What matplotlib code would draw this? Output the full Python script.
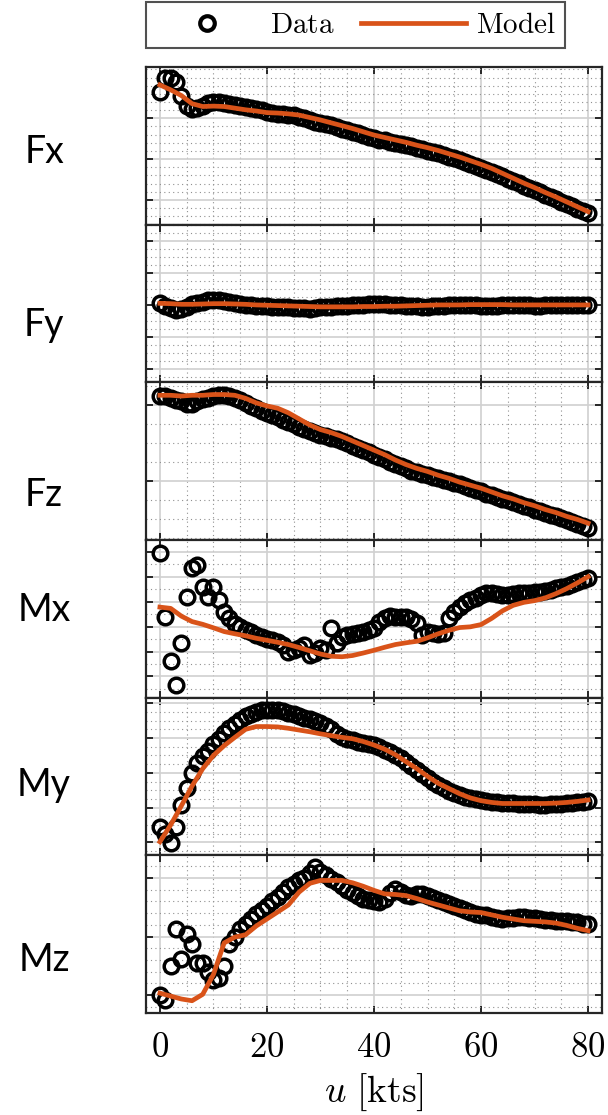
import numpy as np
import matplotlib
matplotlib.use("Agg")
import matplotlib.pyplot as plt
from matplotlib.ticker import MultipleLocator, AutoMinorLocator

plt.rcParams['mathtext.fontset'] = 'cm'

# speed grid (kts)
u_data = np.arange(0, 81, 1)
u_model = np.arange(0, 81, 2)

names = ["Fx", "Fy", "Fz", "Mx", "My", "Mz"]

# measured data, normalised units (one unit = one grid step)
Fx_data = [2.65, 2.99, 3.00, 2.88, 2.55, 2.30, 2.22, 2.25, 2.31, 2.37,
           2.40, 2.40, 2.38, 2.35, 2.32, 2.30, 2.28, 2.26, 2.23, 2.20,
           2.16, 2.13, 2.11, 2.10, 2.09, 2.07, 2.04, 2.00, 1.96, 1.92,
           1.89, 1.86, 1.83, 1.79, 1.75, 1.71, 1.67, 1.63, 1.59, 1.55,
           1.51, 1.48, 1.46, 1.43, 1.40, 1.37, 1.34, 1.31, 1.28, 1.24,
           1.21, 1.18, 1.14, 1.10, 1.06, 1.02, 0.98, 0.93, 0.89, 0.84,
           0.79, 0.74, 0.68, 0.63, 0.58, 0.52, 0.46, 0.41, 0.35, 0.29,
           0.23, 0.18, 0.12, 0.07, 0.01, -0.05, -0.10, -0.16, -0.22, -0.28,
           -0.32]
Fy_data = [0.05, -0.02, -0.10, -0.15, -0.12, -0.05, 0.02, 0.06, 0.10, 0.14,
           0.16, 0.15, 0.12, 0.08, 0.05, 0.03, 0.01, 0.00, -0.02, -0.03,
           -0.04, -0.05, -0.06, -0.07, -0.08, -0.09, -0.10, -0.11, -0.12, -0.10,
           -0.08, -0.06, -0.05, -0.04, -0.03, -0.02, -0.01, 0.00, 0.01, 0.02,
           0.03, 0.03, 0.02, 0.01, 0.00, -0.01, -0.02, -0.03, -0.04, -0.05,
           -0.05, -0.04, -0.03, -0.02, -0.01, 0.00, 0.01, 0.01, 0.00, -0.01,
           -0.02, -0.03, -0.03, -0.02, -0.01, 0.00, 0.01, 0.01, 0.00, -0.01,
           -0.02, -0.02, -0.01, 0.00, 0.01, 0.01, 0.00, -0.01, -0.01, 0.00,
           0.00]
Fz_data = [1.12, 1.12, 1.10, 1.07, 1.05, 1.02, 1.02, 1.05, 1.08, 1.10,
           1.12, 1.13, 1.13, 1.12, 1.10, 1.07, 1.03, 0.99, 0.96, 0.93,
           0.90, 0.87, 0.84, 0.81, 0.78, 0.75, 0.72, 0.69, 0.66, 0.63,
           0.61, 0.59, 0.57, 0.55, 0.53, 0.50, 0.47, 0.44, 0.41, 0.38,
           0.35, 0.32, 0.29, 0.26, 0.23, 0.20, 0.17, 0.14, 0.12, 0.10,
           0.08, 0.06, 0.04, 0.02, 0.00, -0.02, -0.04, -0.06, -0.09, -0.11,
           -0.13, -0.16, -0.18, -0.20, -0.23, -0.25, -0.27, -0.30, -0.32, -0.34,
           -0.37, -0.39, -0.41, -0.44, -0.46, -0.48, -0.51, -0.53, -0.56, -0.58,
           -0.61]
Mx_data = [4.96, 2.40, 0.63, -0.33, 1.33, 3.20, 4.35, 4.45, 3.60, 3.20,
           3.60, 3.05, 2.60, 2.33, 2.10, 1.98, 1.88, 1.78, 1.68, 1.60,
           1.52, 1.47, 1.40, 1.27, 1.00, 1.07, 1.15, 1.25, 0.85, 0.95,
           1.13, 1.05, 1.93, 1.33, 1.58, 1.65, 1.72, 1.76, 1.80, 1.85,
           1.95, 2.20, 2.35, 2.42, 2.40, 2.38, 2.37, 2.30, 2.13, 1.67,
           1.80, 1.75, 1.72, 1.75, 2.33, 2.60, 2.80, 2.95, 3.07, 3.15,
           3.25, 3.33, 3.35, 3.30, 3.27, 3.28, 3.30, 3.33, 3.34, 3.36,
           3.38, 3.40, 3.43, 3.48, 3.53, 3.58, 3.64, 3.72, 3.80, 3.87,
           3.93]
My_data = [0.45, 0.25, -0.03, 0.45, 1.07, 1.56, 1.99, 2.28, 2.47, 2.62,
           2.82, 2.98, 3.14, 3.28, 3.40, 3.52, 3.62, 3.70, 3.76, 3.80,
           3.81, 3.81, 3.80, 3.77, 3.73, 3.69, 3.64, 3.59, 3.54, 3.48,
           3.42, 3.35, 3.25, 3.12, 3.02, 2.97, 2.93, 2.90, 2.87, 2.84,
           2.80, 2.74, 2.67, 2.60, 2.52, 2.42, 2.32, 2.20, 2.08, 1.96,
           1.85, 1.74, 1.64, 1.56, 1.48, 1.42, 1.36, 1.31, 1.27, 1.24,
           1.21, 1.19, 1.17, 1.15, 1.14, 1.13, 1.12, 1.11, 1.10, 1.10,
           1.10, 1.09, 1.09, 1.10, 1.10, 1.11, 1.12, 1.13, 1.15, 1.17,
           1.20]
Mz_data = [0.00, -0.09, 0.49, 1.13, 0.61, 1.04, 0.87, 0.55, 0.55, 0.40,
           0.26, 0.29, 0.49, 0.87, 1.00, 1.12, 1.21, 1.30, 1.38, 1.45,
           1.53, 1.61, 1.68, 1.76, 1.84, 1.90, 1.96, 2.01, 2.08, 2.19,
           2.10, 2.05, 1.99, 1.93, 1.87, 1.80, 1.74, 1.69, 1.65, 1.62,
           1.60, 1.59, 1.65, 1.75, 1.82, 1.76, 1.71, 1.70, 1.72, 1.73,
           1.70, 1.66, 1.62, 1.59, 1.56, 1.52, 1.48, 1.45, 1.42, 1.39,
           1.37, 1.36, 1.34, 1.32, 1.30, 1.31, 1.32, 1.33, 1.33, 1.32,
           1.31, 1.30, 1.29, 1.28, 1.27, 1.27, 1.26, 1.25, 1.24, 1.22,
           1.21]

# model output every 2 kts
Fx_model = [2.82, 2.70, 2.56, 2.36, 2.29, 2.30, 2.29, 2.25, 2.21, 2.18,
            2.14, 2.13, 2.11, 2.08, 2.02, 1.96, 1.89, 1.82, 1.75, 1.67,
            1.59, 1.53, 1.47, 1.41, 1.34, 1.28, 1.21, 1.13, 1.05, 0.96,
            0.87, 0.77, 0.65, 0.53, 0.41, 0.30, 0.18, 0.07, -0.05, -0.17,
            -0.29]
Fy_model = [0.05, 0.04, 0.02, 0.02, 0.03, 0.04, 0.04, 0.03, 0.02, 0.00,
            -0.01, -0.02, -0.03, -0.04, -0.05, -0.06, -0.06, -0.06, -0.06, -0.05,
            -0.05, -0.04, -0.04, -0.03, -0.02, -0.01, 0.00, 0.00, 0.00, 0.01,
            0.01, 0.01, 0.01, 0.00, 0.00, 0.00, 0.00, 0.00, 0.00, 0.00,
            0.00]
Fz_model = [1.13, 1.13, 1.12, 1.13, 1.13, 1.14, 1.14, 1.13, 1.09, 1.03,
            0.99, 0.96, 0.90, 0.82, 0.74, 0.68, 0.64, 0.59, 0.53, 0.47,
            0.41, 0.35, 0.28, 0.22, 0.17, 0.13, 0.08, 0.04, -0.01, -0.05,
            -0.09, -0.14, -0.19, -0.23, -0.28, -0.32, -0.37, -0.41, -0.46, -0.50,
            -0.55]
Mx_model = [2.78, 2.73, 2.42, 2.20, 2.09, 1.95, 1.80, 1.71, 1.63, 1.53,
            1.45, 1.37, 1.28, 1.16, 1.03, 0.90, 0.81, 0.79, 0.84, 0.94,
            1.05, 1.17, 1.28, 1.35, 1.41, 1.55, 1.71, 1.85, 1.96, 1.99,
            2.08, 2.33, 2.63, 2.85, 2.97, 3.04, 3.15, 3.32, 3.52, 3.75,
            4.00]
My_model = [0.02, 0.50, 1.05, 1.62, 2.12, 2.50, 2.78, 3.02, 3.25, 3.33,
            3.33, 3.32, 3.28, 3.23, 3.18, 3.12, 3.07, 3.02, 2.98, 2.90,
            2.80, 2.68, 2.52, 2.32, 2.12, 1.90, 1.70, 1.55, 1.40, 1.28,
            1.20, 1.15, 1.12, 1.12, 1.12, 1.12, 1.12, 1.13, 1.15, 1.18,
            1.22]
Mz_model = [0.03, -0.02, -0.07, -0.10, 0.01, 0.35, 0.89, 0.99, 1.03, 1.18,
            1.30, 1.42, 1.54, 1.76, 1.91, 1.96, 1.96, 1.96, 1.92, 1.86,
            1.79, 1.73, 1.72, 1.70, 1.65, 1.59, 1.54, 1.49, 1.44, 1.42,
            1.41, 1.37, 1.33, 1.30, 1.27, 1.26, 1.25, 1.23, 1.19, 1.14,
            1.10]

data = [Fx_data, Fy_data, Fz_data, Mx_data, My_data, Mz_data]
model = [Fx_model, Fy_model, Fz_model, Mx_model, My_model, Mz_model]

# axis ranges / grid per panel
ylims = [(-0.61, 3.26), (-2.43, 2.52), (-0.77, 1.30),
         (-0.85, 5.47), (-0.37, 4.16), (-0.31, 2.39)]
yticks = [[0, 1, 2], [-2, -1, 0, 1, 2], [0, 1],
          [0, 1, 2, 3, 4, 5], [0, 1, 2, 3, 4], [0, 1, 2]]
yminor = [5, 4, 4, 2, 4, 5]
label_y = [152, 325, 495, 610, 785, 960]   # pixel rows of the side labels

W, H = 608, 1115
fig, axes = plt.subplots(6, 1, figsize=(W / 100, H / 100), dpi=100, sharex=True,
                         gridspec_kw=dict(hspace=0))
fig.subplots_adjust(left=146 / W, right=602 / W, top=1 - 67 / H, bottom=1 - 1013 / H)

orange = '#D95319'
axcol = '#262626'

for i, ax in enumerate(axes):
    d = np.array(data[i])
    m = np.array(model[i])
    assert len(d) == len(u_data) and len(m) == len(u_model)
    ax.plot(u_data, d, 'o', mfc='none', mec='black', ms=10.5, mew=2.5, zorder=3,
            label=r'$\mathrm{Data}$' if i == 0 else None)
    ax.plot(u_model, m, '-', color=orange, lw=3.4, zorder=4,
            label=r'$\mathrm{Model}$' if i == 0 else None)

    ax.set_xlim(-2.6, 82.6)
    ax.set_ylim(*ylims[i])
    ax.set_yticks(yticks[i])
    ax.yaxis.set_minor_locator(AutoMinorLocator(yminor[i]))
    ax.xaxis.set_major_locator(MultipleLocator(20))
    ax.xaxis.set_minor_locator(MultipleLocator(5))
    ax.set_yticklabels([])
    ax.grid(True, which='major', color='#d0d0d0', lw=1.2)
    ax.grid(True, which='minor', color='#909090', lw=0.8, ls=(0, (1, 3)))
    ax.set_axisbelow(True)
    ax.tick_params(which='major', direction='in', length=5, width=1.4,
                   top=True, right=True, color=axcol)
    ax.tick_params(which='minor', length=0)
    for s in ax.spines.values():
        s.set_color(axcol)
        s.set_linewidth(1.6)
    fig.text(44 / W, 1 - label_y[i] / H, names[i], ha='center', va='center',
             fontsize=27, family='Lato')

axb = axes[-1]
axb.set_xticks([0, 20, 40, 60, 80])
axb.set_xticklabels([r'$%d$' % v for v in [0, 20, 40, 60, 80]], fontsize=25)
axb.tick_params(axis='x', pad=12)
axb.set_xlabel(r'$u\ [\mathrm{kts}]$', fontsize=27, labelpad=6)

h, l = axes[0].get_legend_handles_labels()
leg = fig.legend(h, l, loc='upper left', ncol=2,
                 bbox_to_anchor=(146 / W, 1 - 2 / H),
                 fontsize=21, numpoints=1, handlelength=3.6, handletextpad=0.35,
                 columnspacing=0.9, frameon=True, fancybox=False,
                 edgecolor=axcol, borderaxespad=0, borderpad=0.3)
leg.get_frame().set_linewidth(1.5)
leg.legend_handles[0].set_markeredgewidth(3.0)

fig.savefig('out.png', dpi=100)
